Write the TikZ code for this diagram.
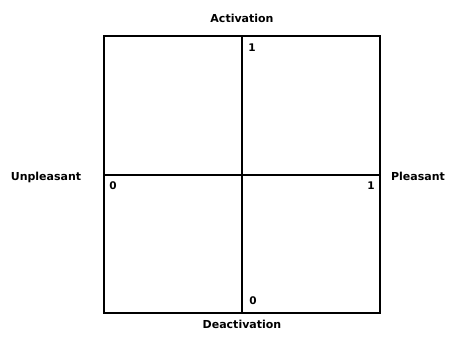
\documentclass[tikz,border=0pt]{standalone}
\usepackage{fontspec}
\setmainfont{DejaVu Sans}
\begin{document}
\begin{tikzpicture}[x=1pt,y=-1pt,
  axislabel/.style={font=\bfseries\fontsize{11}{13}\selectfont,inner sep=0pt},
  numlabel/.style={font=\bfseries\fontsize{10.5}{12}\selectfont,inner sep=0pt},
  frame/.style={line width=1.8pt}]
\useasboundingbox[fill=white] (0,0) rectangle (451,337);
\coordinate (tl) at (104,36);
\coordinate (br) at (380,313);
\coordinate (top) at (242,36);
\coordinate (bot) at (242,313);
\coordinate (lft) at (104,175);
\coordinate (rgt) at (380,175);
\draw[frame] (tl) rectangle (br);
\draw[frame] (top) -- (bot);
\draw[frame] (lft) -- (rgt);
\node[axislabel] (act) at (242,18) {Activation};
\node[axislabel] (deact) at (242,324) {Deactivation};
\node[axislabel] (unp) at (46,177) {Unpleasant};
\node[axislabel] (ple) at (418,176) {Pleasant};
\node[numlabel] (n1) at (252,48) {1};
\node[numlabel] (n2) at (113,186) {0};
\node[numlabel] (n3) at (371,186) {1};
\node[numlabel] (n4) at (253,301) {0};
\end{tikzpicture}
\end{document}
